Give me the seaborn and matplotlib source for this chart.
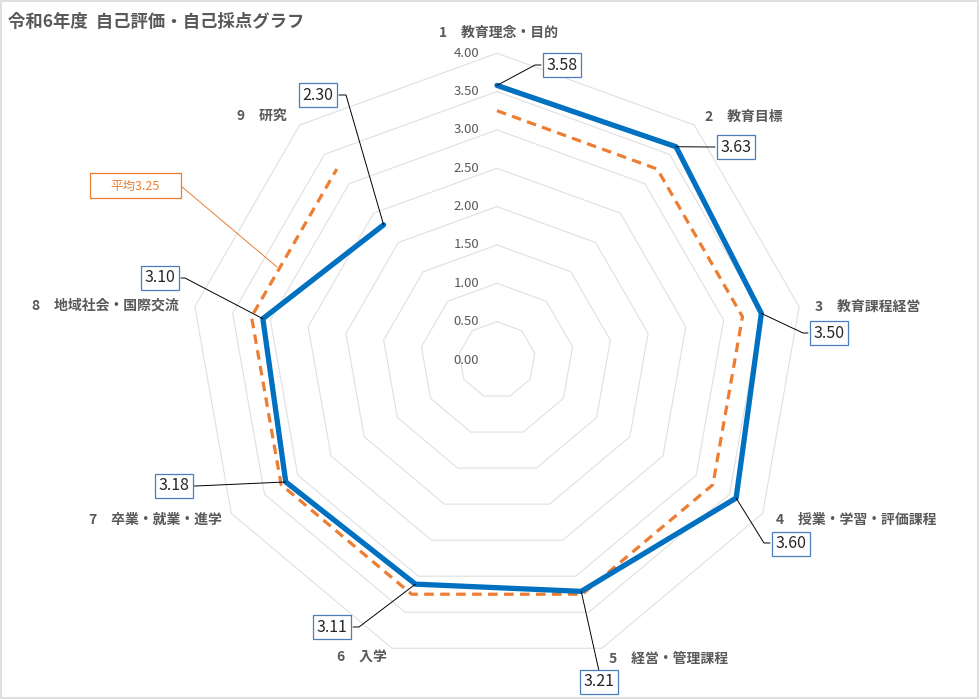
import numpy as np
import pandas as pd
import matplotlib
matplotlib.use("Agg")
import matplotlib.pyplot as plt
from matplotlib.patches import Rectangle
import seaborn as sns

# data
categories = ["1　教育理念・目的", "2　教育目標", "3　教育課程経営", "4　授業・学習・評価課程",
              "5　経営・管理課程", "6　入学", "7　卒業・就業・進学", "8　地域社会・国際交流", "9　研究"]
scores = [3.58, 3.63, 3.50, 3.60, 3.21, 3.11, 3.18, 3.10, 2.30]
average = 3.25
ring_ticks = [0.0, 0.5, 1.0, 1.5, 2.0, 2.5, 3.0, 3.5, 4.0]
title = "令和6年度  自己評価・自己採点グラフ"

sns.set_theme(style="white")
plt.rcParams['font.family'] = ['Noto Sans CJK JP', 'DejaVu Sans']

W, H = 980, 699
CX, CY, S = 497, 360, 76.7   # centre in pixels and pixels per unit


def px(x, y):
    return (x - CX) / S, (CY - y) / S


def polar_xy(r, i, n):
    a = 2 * np.pi * i / n
    return r * np.sin(a), r * np.cos(a)


n = len(categories)
fig = plt.figure(figsize=(W / 100, H / 100), dpi=100)
ax = fig.add_axes([0, 0, 1, 1])
ax.set_xlim(-CX / S, (W - CX) / S)
ax.set_ylim((CY - H) / S, CY / S)
ax.axis("off")

# grid rings
for r in ring_ticks[1:]:
    ring = pd.DataFrame([polar_xy(r, i % n, n) for i in range(n + 1)], columns=["x", "y"])
    ax.plot(ring["x"], ring["y"], color="#E0E0E0", lw=0.8, zorder=1)
for r in ring_ticks:
    tx, _ = px(479, 0)
    ax.text(tx, r, f"{r:.2f}", ha="right", va="center", fontsize=9.5, color="#595959")

idx = list(range(n)) + [0]
avg_df = pd.DataFrame([polar_xy(average, i % n, n) for i in idx], columns=["x", "y"])
sc_df = pd.DataFrame([polar_xy(scores[i % n], i % n, n) for i in idx], columns=["x", "y"])

sns.lineplot(data=avg_df, x="x", y="y", sort=False, ax=ax, color="#ED7D31", lw=2.3,
             linestyle=(0, (3, 2)), zorder=3)
sns.lineplot(data=sc_df, x="x", y="y", sort=False, ax=ax, color="#0070C0", lw=3.8, zorder=4)

# category labels
cat_pos = [(498, 33), (744, 117), (868, 307), (856, 520), (669, 659),
           (362, 658), (155, 520), (105, 306), (262, 116)]
for lab, (x, y) in zip(categories, cat_pos):
    ax.text(*px(x, y), lab, ha="center", va="center", fontsize=10, fontweight="bold", color="#595959")

# value labels with leader lines: box centre, elbow point, attach point
box_pos = [(562, 65), (736, 147), (829, 333), (791, 544), (599, 682),
           (332, 627), (174, 486), (160, 278), (318, 95)]
elbows = [(535, 65), (713, 147), (803, 333), (764, 543), (599, 671),
          (359, 627), (196, 486), (185, 278), (346, 95)]
attach = [(541, 65), (715, 147), (808, 333), (770, 543), (599, 671),
          (353, 627), (194, 486), (181, 278), (339, 95)]
for i, v in enumerate(scores):
    vx, vy = polar_xy(v, i, n)
    ex, ey = px(*elbows[i])
    tx, ty = px(*attach[i])
    ax.plot([vx, ex, tx], [vy, ey, ty], color="black", lw=0.7, zorder=5)
    ax.text(*px(*box_pos[i]), f"{v:.2f}", ha="center", va="center", fontsize=11.5,
            color="#262626", zorder=6,
            bbox=dict(boxstyle="square,pad=0.22", fc="white", ec="#4A7EBB", lw=0.9))

# average label
ax.plot(*zip(px(181, 186), px(277, 267)), color="#ED7D31", lw=0.7, zorder=5)
bx0, by0 = px(90, 198)
bx1, by1 = px(181, 173)
ax.add_patch(Rectangle((bx0, by0), bx1 - bx0, by1 - by0, fc="white", ec="#ED7D31", lw=0.9, zorder=6))
ax.text(*px(135, 186), f"平均{average:.2f}", ha="center", va="center", fontsize=9,
        color="#ED7D31", zorder=7)

ax.text(*px(8, 22), title, ha="left", va="center", fontsize=12.5, fontweight="bold", color="#595959")

fig.patches.append(Rectangle((0.001, 0.001), 0.997, 0.997, transform=fig.transFigure,
                             fill=False, ec="#D9D9D9", lw=1.2))

fig.savefig("out.png", dpi=100)
